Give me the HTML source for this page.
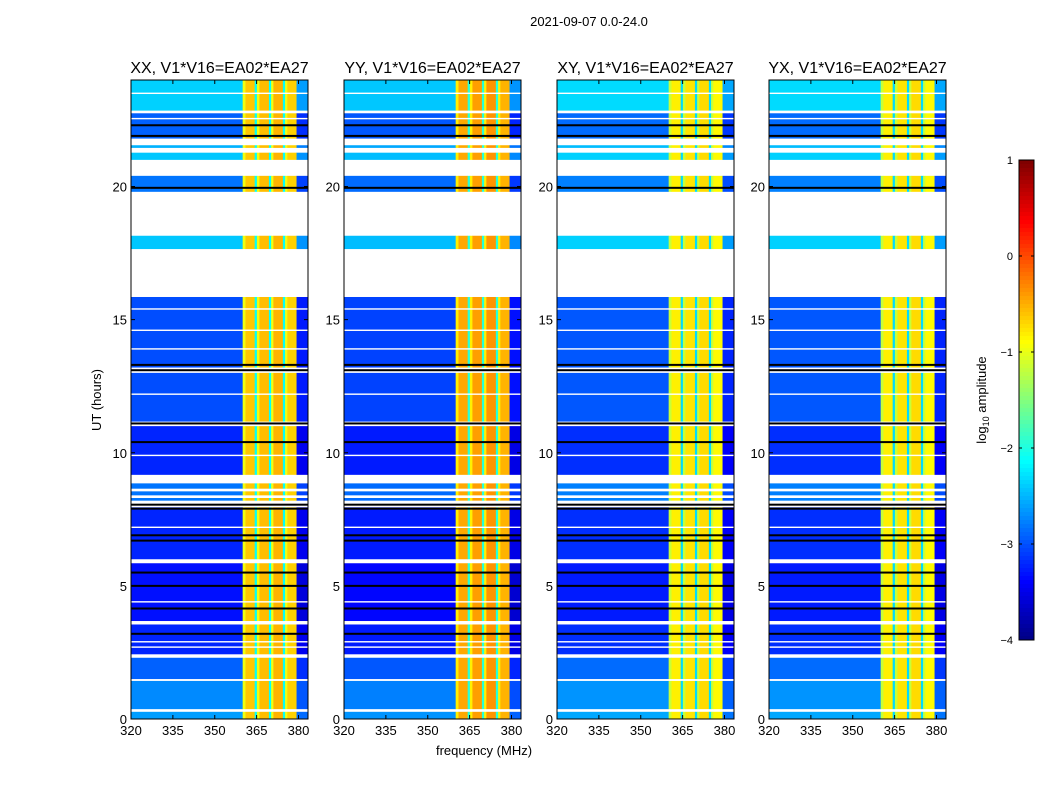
<!DOCTYPE html>
<html><head><meta charset="utf-8"><style>
body{margin:0;background:#fff;}
svg{display:block;font-family:"Liberation Sans","DejaVu Sans",sans-serif;}
</style></head><body>
<svg id="fig" width="1050" height="800" viewBox="0 0 1050 800">
<text x="589" y="26" font-size="13" text-anchor="middle">2021-09-07 0.0-24.0</text>
<text x="484" y="755" font-size="13" text-anchor="middle">frequency (MHz)</text>
<text x="101" y="400" font-size="13" text-anchor="middle" transform="rotate(-90 101 400)">UT (hours)</text>
<g id="panels"></g>
<g id="cbar"></g>
</svg>
<script>
const panelTitles=["XX, V1*V16=EA02*EA27","YY, V1*V16=EA02*EA27","XY, V1*V16=EA02*EA27","YX, V1*V16=EA02*EA27"];
const panelLeft=[131,344,557,769];
const panelBandLevel=[-0.6,-0.45,-0.8,-0.8];
const panelBgShift=[0,-0.05,0.05,0.05];
const xTicks=[320,335,350,365,380];
const yTicks=[0,5,10,15,20];
// time segments with data: [t0,t1,background log10 amplitude]
const segments=[[22.85,24,-2.35],[21.8,22.75,-2.9],[21.45,21.55,-2.5],[21.0,21.27,-2.4],[19.8,20.4,-2.8],[17.65,18.15,-2.4],[13.2,15.85,-3.0],[11.17,13.0,-3.0],[9.17,11.0,-3.2],[8.65,8.85,-2.8],[8.4,8.55,-2.8],[8.2,8.3,-2.8],[6.0,7.95,-3.2],[3.68,5.85,-3.3],[2.43,3.55,-3.2],[1.5,2.3,-2.9],[0.37,1.43,-2.7],[0,0.27,-2.6]];
// frequency bands: [f0,f1,offset from panel band level] (null = background)
const freqBands=[[320,360,null],[360,361,-0.35],[361,364.3,0],[364.3,365.1,-1.5],[365.1,366,-0.35],[366,369.4,0.05],[369.4,370.2,-1.5],[370.2,371,-0.35],[371,374.4,0.1],[374.4,375.2,-1.5],[375.2,376,-0.35],[376,379.3,-0.05],[379.3,383.4,null]];
const blackLines=[22.3,21.9,19.95,13.3,13.1,11.1,10.4,8.05,7.9,6.7,6.9,5.5,5.0,4.15,3.2];
const whiteLines=[23.5,22.55,15.4,14.6,13.9,12.2,9.9,7.2,4.4,2.9,2.7];
const cbTicks=[1,0,-1,-2,-3,-4];

const NS="http://www.w3.org/2000/svg";
function mk(t,a,p){const e=document.createElementNS(NS,t);for(const k in a)e.setAttribute(k,a[k]);p.appendChild(e);return e;}
function jet(v){
  const c=x=>Math.max(0,Math.min(1,x));
  const r=c(1.5-Math.abs(4*v-3)),g=c(1.5-Math.abs(4*v-2)),b=c(1.5-Math.abs(4*v-1));
  return `rgb(${Math.round(r*255)},${Math.round(g*255)},${Math.round(b*255)})`;
}
function lv(l){return jet((l+4)/5);}
const W=177,TOP=80,BOT=719,F0=320,F1=383.4;
const yS=t=>BOT-(t/24)*(BOT-TOP);
const P=document.getElementById('panels');
panelTitles.forEach((title,pi)=>{
  const L=panelLeft[pi];
  const xS=f=>L+(f-F0)/(F1-F0)*W;
  const g=mk('g',{},P);
  
  
  segments.forEach(s=>{
    freqBands.forEach(b=>{
      const lvl=b[2]===null? s[2]+panelBgShift[pi]-(b[0]>370?0.25:0) : panelBandLevel[pi]+b[2];
      const r=mk('rect',{x:xS(b[0]),y:yS(s[1]),width:xS(b[1])-xS(b[0])+0.3,height:yS(s[0])-yS(s[1]),fill:lv(lvl)},g);
      
      
    });
  });
  blackLines.forEach(t=>{const r=mk('rect',{x:L,y:yS(t)-1,width:W,height:2,fill:'#000'},g);
    });
  whiteLines.forEach(t=>{const r=mk('rect',{x:L,y:yS(t)-0.7,width:W,height:1.4,fill:'#fff'},g);
    });
  const fr=mk('rect',{x:L,y:TOP,width:W,height:BOT-TOP,fill:'none',stroke:'#000','stroke-width':1},g);
  
  const tt=mk('text',{x:L+W/2,y:73,'font-size':16,'text-anchor':'middle'},g);tt.textContent=title;
  
  xTicks.forEach(f=>{const x=xS(f);
    mk('line',{x1:x,x2:x,y1:BOT,y2:BOT-4,stroke:'#000'},g);mk('line',{x1:x,x2:x,y1:TOP,y2:TOP+4,stroke:'#000'},g);
    const t=mk('text',{x:x,y:BOT+16,'font-size':13,'text-anchor':'middle'},g);t.textContent=f;
    });
  yTicks.forEach(v=>{const y=yS(v);
    mk('line',{x1:L,x2:L+4,y1:y,y2:y,stroke:'#000'},g);mk('line',{x1:L+W,x2:L+W-4,y1:y,y2:y,stroke:'#000'},g);
    const t=mk('text',{x:L-4,y:y+5,'font-size':13,'text-anchor':'end'},g);t.textContent=v;
    });
});
const C=document.getElementById('cbar');


const CT=160,CB=640,CL=1019,CW=15;
for(let i=0;i<120;i++){const v=1-i/120;mk('rect',{x:CL,y:CT+i*(CB-CT)/120,width:CW,height:(CB-CT)/120+0.5,fill:jet(v)},C);}
mk('rect',{x:CL,y:CT,width:CW,height:CB-CT,fill:'none',stroke:'#000'},C);
cbTicks.forEach(v=>{const y=CB-(v+4)/5*(CB-CT);
  mk('line',{x1:CL,x2:CL+3,y1:y,y2:y,stroke:'#000'},C);mk('line',{x1:CL+CW,x2:CL+CW-3,y1:y,y2:y,stroke:'#000'},C);
  const t=mk('text',{x:1013,y:y+4,'font-size':11,'text-anchor':'end'},C);t.textContent=v<0?'\u2212'+(-v):v;
  });
const cl=mk('text',{x:986,y:400,'font-size':13,'text-anchor':'middle',transform:'rotate(-90 986 400)'},C);
cl.innerHTML='log<tspan font-size="9" dy="3">10</tspan><tspan dy="-3"> amplitude</tspan>';

</script>
</body></html>
